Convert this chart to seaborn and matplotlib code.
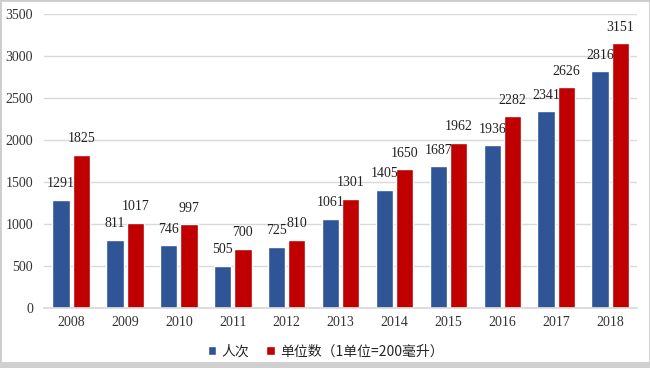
import numpy as np
import pandas as pd
import matplotlib
matplotlib.use('Agg')
import matplotlib.pyplot as plt
from matplotlib.patches import Rectangle
import seaborn as sns

years = ['2008', '2009', '2010', '2011', '2012', '2013', '2014', '2015', '2016', '2017', '2018']
renci = [1291, 811, 746, 505, 725, 1061, 1405, 1687, 1936, 2341, 2816]
danwei = [1825, 1017, 997, 700, 810, 1301, 1650, 1962, 2282, 2626, 3151]
series_names = ['人次', '单位数（1单位=200毫升）']
colors = ['#2F5597', '#C00000']

sns.set_theme(style='white')
plt.rcParams['font.family'] = ['Liberation Serif', 'Noto Sans CJK SC', 'DejaVu Sans']

df = pd.DataFrame({'year': years * 2,
                   'value': renci + danwei,
                   'series': [series_names[0]] * len(years) + [series_names[1]] * len(years)})

fig = plt.figure(figsize=(6.5, 3.68), dpi=100)
ax = fig.add_axes([0.068, 0.163, 0.912, 0.799])

sns.barplot(data=df, x='year', y='value', hue='series', palette=colors,
            width=0.75, gap=0.15, saturation=1, ax=ax, legend=True)

for c in ax.containers:
    ax.bar_label(c, padding=7, fontsize=10, color='#222222',
                 family='Liberation Serif')

ax.set_ylim(0, 3500)
ax.set_yticks(range(0, 3501, 500))
ax.set_xlim(-0.5, len(years) - 0.5)
ax.yaxis.grid(True, color='#d9d9d9', linewidth=1)
ax.set_axisbelow(True)
for s in ['top', 'right', 'left']:
    ax.spines[s].set_visible(False)
ax.spines['bottom'].set_color('#d9d9d9')
ax.tick_params(axis='both', length=0, labelsize=10, colors='#333333')
ax.tick_params(axis='y', pad=8)
ax.tick_params(axis='x', pad=6)
ax.set_xlabel('')
ax.set_ylabel('')

leg = ax.legend(loc='lower center', bbox_to_anchor=(0.475, -0.215), ncol=2,
                frameon=False, handlelength=0.6, handleheight=0.6,
                handletextpad=0.4, columnspacing=1.2,
                prop={'family': ['Noto Sans CJK SC'], 'size': 10})

fig.patches.append(Rectangle((0, 0), 1, 1, transform=fig.transFigure,
                             fill=False, edgecolor='#cccccc', linewidth=2))
fig.patches.append(Rectangle((0, 0), 1, 0.016, transform=fig.transFigure,
                             facecolor='#d0d0d0', edgecolor='none'))

fig.savefig('out.png', dpi=100)
